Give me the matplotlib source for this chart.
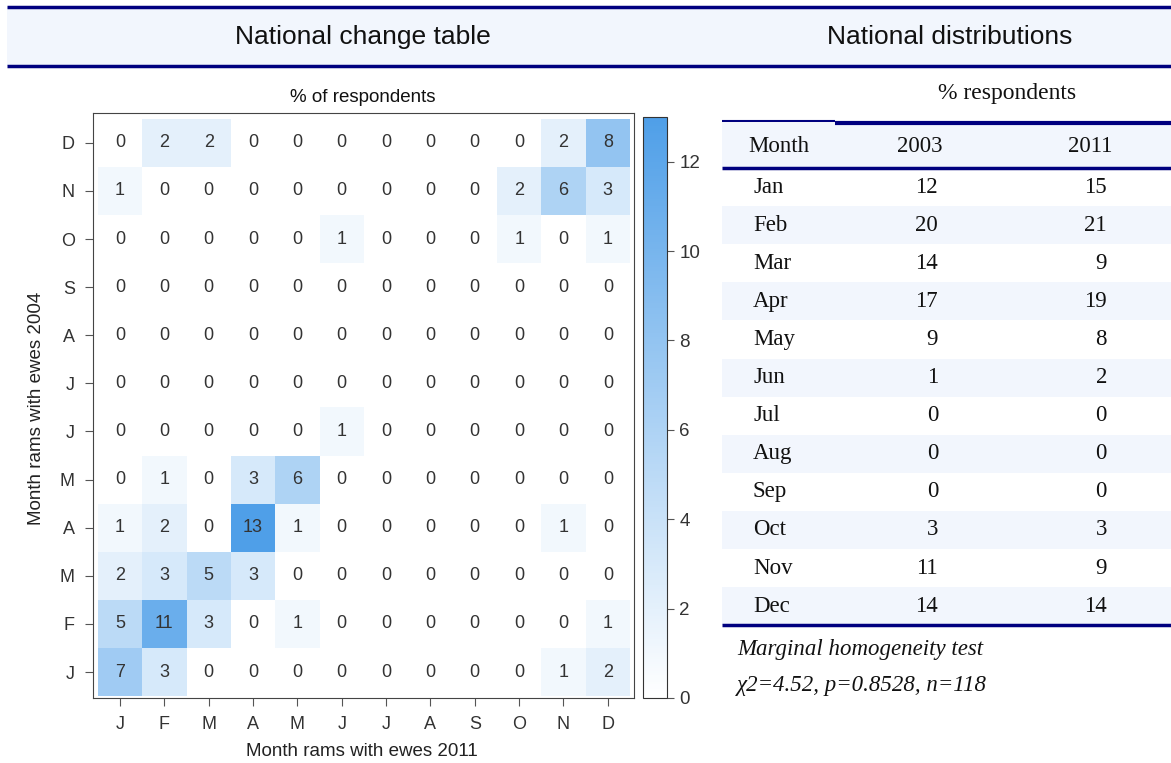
import numpy as np
import matplotlib.pyplot as plt
from matplotlib.colors import LinearSegmentedColormap
from matplotlib.patches import Rectangle

W, H = 1171, 763

# change table: rows = month rams with ewes 2004 (Jan..Dec), cols = 2011 (Jan..Dec)
month_letters = ["J", "F", "M", "A", "M", "J", "J", "A", "S", "O", "N", "D"]
row_jan = [7, 3, 0, 0, 0, 0, 0, 0, 0, 0, 1, 2]
row_feb = [5, 11, 3, 0, 1, 0, 0, 0, 0, 0, 0, 1]
row_mar = [2, 3, 5, 3, 0, 0, 0, 0, 0, 0, 0, 0]
row_apr = [1, 2, 0, 13, 1, 0, 0, 0, 0, 0, 1, 0]
row_may = [0, 1, 0, 3, 6, 0, 0, 0, 0, 0, 0, 0]
row_jun = [0, 0, 0, 0, 0, 1, 0, 0, 0, 0, 0, 0]
row_jul = [0, 0, 0, 0, 0, 0, 0, 0, 0, 0, 0, 0]
row_aug = [0, 0, 0, 0, 0, 0, 0, 0, 0, 0, 0, 0]
row_sep = [0, 0, 0, 0, 0, 0, 0, 0, 0, 0, 0, 0]
row_oct = [0, 0, 0, 0, 0, 1, 0, 0, 0, 1, 0, 1]
row_nov = [1, 0, 0, 0, 0, 0, 0, 0, 0, 2, 6, 3]
row_dec = [0, 2, 2, 0, 0, 0, 0, 0, 0, 0, 2, 8]
change = np.array([row_jan, row_feb, row_mar, row_apr, row_may, row_jun,
                   row_jul, row_aug, row_sep, row_oct, row_nov, row_dec])

# national distributions table
months = ["Jan", "Feb", "Mar", "Apr", "May", "Jun",
          "Jul", "Aug", "Sep", "Oct", "Nov", "Dec"]
pct_2003 = [12, 20, 14, 17, 9, 1, 0, 0, 0, 3, 11, 14]
pct_2011 = [15, 21, 9, 19, 8, 2, 0, 0, 0, 3, 9, 14]

navy = "#00007f"
band = "#f2f6fd"
sans = "Liberation Sans"
serif = "Liberation Serif"

fig = plt.figure(figsize=(W / 100, H / 100), dpi=100)

# background layer in pixel coords
bg = fig.add_axes([0, 0, 1, 1])
bg.set_xlim(0, W)
bg.set_ylim(H, 0)
bg.axis("off")

bg.add_patch(Rectangle((7, 7), W - 7, 59, fc=band, ec="none"))
bg.plot([7, W], [7, 7], color=navy, lw=2.5, solid_capstyle="butt")
bg.plot([7, W], [66, 66], color=navy, lw=2.5, solid_capstyle="butt")
bg.text(363, 37, "National change table", ha="center", va="center",
        fontsize=19, family=sans, color="#111111")
bg.text(950, 37, "National distributions", ha="center", va="center",
        fontsize=19, family=sans, color="#111111")

# heatmap
cmap = LinearSegmentedColormap.from_list("wb", ["#ffffff", "#4f9fe8"])
ax = fig.add_axes([93 / W, 1 - 698 / H, (634 - 93) / W, (698 - 113) / H])
edges = np.arange(13) - 0.5
mesh = ax.pcolormesh(edges, edges, change, cmap=cmap, vmin=0, vmax=13)
for i in range(12):
    for j in range(12):
        ax.text(j, i, str(change[i, j]), ha="center", va="center",
                fontsize=13, family=sans, color="#333333")
ax.set_xlim(-0.61, 11.59)
ax.set_ylim(-0.54, 11.62)
ax.set_xticks(range(12))
ax.set_xticklabels(month_letters)
ax.set_yticks(range(12))
ax.set_yticklabels(month_letters)
ax.tick_params(length=6, width=0.8, color="#555555", labelsize=13,
               labelcolor="#333333", pad=7)
for lab in ax.get_xticklabels() + ax.get_yticklabels():
    lab.set_family(sans)
for s in ax.spines.values():
    s.set_color("#444444")
    s.set_linewidth(0.8)

bg.text(363, 97, "% of respondents", ha="center", va="center",
        fontsize=13.5, family=sans, color="#111111")
bg.text(362, 752, "Month rams with ewes 2011", ha="center", va="center",
        fontsize=13.5, family=sans, color="#222222")
bg.text(37, 408, "Month rams with ewes 2004", ha="center", va="center",
        rotation=90, fontsize=13.5, family=sans, color="#222222")

cax = fig.add_axes([643 / W, 1 - 698 / H, 24 / W, (698 - 117) / H])
cb = fig.colorbar(mesh, cax=cax, ticks=range(0, 13, 2))
cb.outline.set_linewidth(0.8)
cb.outline.set_edgecolor("#333333")
cax.tick_params(length=5, width=0.8, color="#555555", labelsize=13.5,
                labelcolor="#333333", pad=4)
for lab in cax.get_yticklabels():
    lab.set_family(sans)

# distributions table
tx0 = 722
row_h = 38.1
body_top = 168
bg.add_patch(Rectangle((tx0, 123), W - tx0, body_top - 123, fc=band, ec="none"))
for i in range(len(months)):
    top = body_top + i * row_h
    if i % 2 == 1:
        bg.add_patch(Rectangle((tx0, top), W - tx0, row_h, fc=band, ec="none"))
    yc = top + row_h / 2
    bg.text(753, yc, months[i], ha="left", va="center", fontsize=16.5,
            family=serif, color="#111111")
    bg.text(938, yc, str(pct_2003[i]), ha="right", va="center", fontsize=16.5,
            family=serif, color="#111111")
    bg.text(1107, yc, str(pct_2011[i]), ha="right", va="center", fontsize=16.5,
            family=serif, color="#111111")

bottom = body_top + len(months) * row_h
bg.text(1007, 94, "% respondents", ha="center", va="center", fontsize=17,
        family=serif, color="#111111")
bg.plot([tx0, 835], [121, 121], color=navy, lw=1.5, solid_capstyle="butt")
bg.plot([835, W], [122.5, 122.5], color=navy, lw=3, solid_capstyle="butt")
bg.text(748, 146, "Month", ha="left", va="center", fontsize=16.5,
        family=serif, color="#111111")
bg.text(920, 146, "2003", ha="center", va="center", fontsize=16.5,
        family=serif, color="#111111")
bg.text(1090, 146, "2011", ha="center", va="center", fontsize=16.5,
        family=serif, color="#111111")
bg.plot([tx0, W], [body_top, body_top], color=navy, lw=2.5, solid_capstyle="butt")
bg.plot([tx0, W], [bottom, bottom], color=navy, lw=2.5, solid_capstyle="butt")

bg.text(737, 650, "Marginal homogeneity test", ha="left", va="center",
        fontsize=16.5, family=serif, style="italic", color="#111111")
bg.text(737, 685, "\u03c72=4.52, p=0.8528, n=118", ha="left", va="center",
        fontsize=16.5, family=serif, style="italic", color="#111111")

fig.savefig("out.png", dpi=100)
